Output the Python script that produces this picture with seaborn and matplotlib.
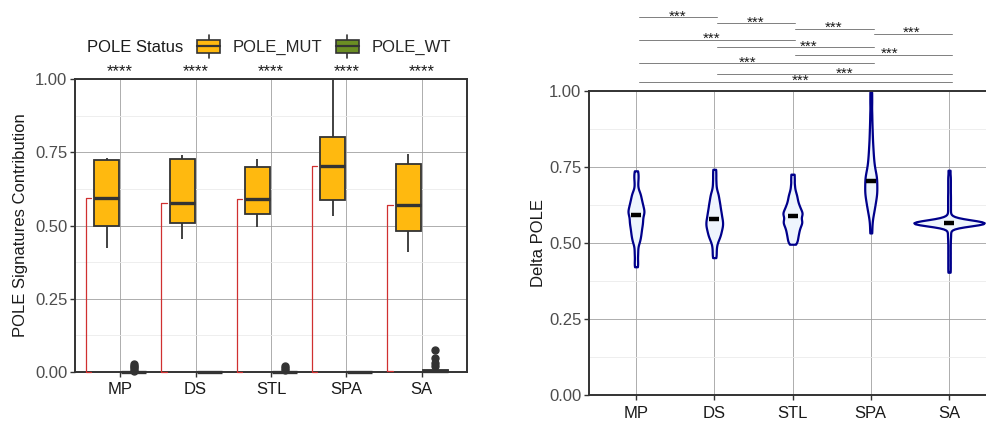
import numpy as np
import pandas as pd
import seaborn as sns
import matplotlib.pyplot as plt
from matplotlib.legend_handler import HandlerBase
from matplotlib.patches import Rectangle, Patch
from matplotlib.lines import Line2D

# ---------------- data ----------------
categories = ["MP", "DS", "STL", "SPA", "SA"]
statuses = ["POLE_MUT", "POLE_WT"]

# POLE signature contribution (left panel)
mp_mut = [0.424, 0.497, 0.593, 0.724, 0.731]
ds_mut = [0.453, 0.507, 0.578, 0.726, 0.741]
stl_mut = [0.496, 0.539, 0.590, 0.701, 0.726]
spa_mut = [0.533, 0.586, 0.704, 0.802, 1.000]
sa_mut = [0.411, 0.482, 0.570, 0.711, 0.743]

mp_wt = [0.0] * 16 + [0.005, 0.010, 0.016, 0.022, 0.028]
ds_wt = [0.0] * 8
stl_wt = [0.0] * 12 + [0.008, 0.014, 0.020]
spa_wt = [0.0] * 8
sa_wt = [0.0] * 8 + [0.002, 0.004, 0.005, 0.006, 0.007, 0.020, 0.032, 0.048, 0.075]

# Delta POLE (right panel)
mp_delta = [0.422, 0.440, 0.461, 0.479, 0.497, 0.506, 0.514, 0.521, 0.528, 0.534,
            0.540, 0.546, 0.552, 0.557, 0.562, 0.567, 0.572, 0.576, 0.581, 0.585,
            0.593, 0.596, 0.599, 0.602, 0.606, 0.610, 0.614, 0.619, 0.623, 0.628,
            0.633, 0.638, 0.644, 0.650, 0.657, 0.664, 0.671, 0.690, 0.708, 0.722,
            0.737]
ds_delta = [0.452, 0.468, 0.484, 0.498, 0.508, 0.515, 0.521, 0.526, 0.531, 0.536,
            0.540, 0.545, 0.549, 0.553, 0.557, 0.560, 0.564, 0.568, 0.572, 0.576,
            0.578, 0.584, 0.588, 0.592, 0.597, 0.601, 0.606, 0.611, 0.616, 0.622,
            0.627, 0.633, 0.639, 0.646, 0.653, 0.661, 0.669, 0.684, 0.702, 0.722,
            0.742]
stl_delta = [0.496, 0.503, 0.510, 0.516, 0.522, 0.528, 0.533, 0.538, 0.543, 0.548,
             0.552, 0.556, 0.560, 0.564, 0.567, 0.570, 0.573, 0.576, 0.580, 0.585,
             0.589, 0.592, 0.595, 0.598, 0.601, 0.604, 0.608, 0.612, 0.616, 0.620,
             0.625, 0.630, 0.636, 0.642, 0.649, 0.656, 0.664, 0.675, 0.690, 0.708,
             0.726]
spa_delta = [0.533, 0.562, 0.585, 0.598, 0.608, 0.617, 0.625, 0.632, 0.639, 0.645,
             0.651, 0.657, 0.662, 0.667, 0.672, 0.677, 0.682, 0.688, 0.693, 0.699,
             0.704, 0.709, 0.714, 0.720, 0.725, 0.731, 0.738, 0.746, 0.755, 0.765,
             0.775, 0.787, 0.800, 0.814, 0.830, 0.849, 0.870, 0.895, 0.925, 0.962,
             0.996]
sa_delta = [0.404, 0.420, 0.436, 0.452, 0.468, 0.484, 0.500, 0.515, 0.528, 0.540,
            0.556, 0.558, 0.559, 0.559, 0.560, 0.561, 0.561, 0.561, 0.562, 0.562,
            0.562, 0.563, 0.563, 0.563, 0.564, 0.564, 0.564, 0.565, 0.565, 0.565,
            0.565, 0.565, 0.565, 0.566, 0.566, 0.566, 0.567, 0.567, 0.567, 0.568,
            0.568, 0.568, 0.569, 0.569, 0.569, 0.570, 0.570, 0.571, 0.572, 0.573,
            0.574, 0.575, 0.577, 0.578, 0.580,
            0.590, 0.604, 0.618, 0.632, 0.646, 0.660, 0.675, 0.690, 0.705, 0.720, 0.739]

# significance comparisons (right panel)
sig_from = [0, 1, 2, 3, 0, 1, 2, 0, 1, 0]
sig_to = [1, 2, 3, 4, 2, 3, 4, 3, 4, 4]
sig_level = [1.241, 1.221, 1.204, 1.187, 1.168, 1.142, 1.117, 1.090, 1.054, 1.028]
sig_labels = ["***"] * 10
sig_label_dx = [0.036, 0.03, 0.03, 0.02, -0.03, 0.2, 0.24, -0.07, 0.17, 0.10]
left_sig_labels = ["****"] * 5

# ---------------- frames ----------------
mut_lists = [mp_mut, ds_mut, stl_mut, spa_mut, sa_mut]
wt_lists = [mp_wt, ds_wt, stl_wt, spa_wt, sa_wt]
delta_lists = [mp_delta, ds_delta, stl_delta, spa_delta, sa_delta]

rows = []
for cat, mv, wv in zip(categories, mut_lists, wt_lists):
    rows += [(cat, "POLE_MUT", v) for v in mv]
    rows += [(cat, "POLE_WT", v) for v in wv]
df_left = pd.DataFrame(rows, columns=["group", "status", "value"])

rows = []
for cat, dv in zip(categories, delta_lists):
    rows += [(cat, v) for v in dv]
df_right = pd.DataFrame(rows, columns=["group", "value"])

# ---------------- style ----------------
sns.set_theme(style="white")
plt.rcParams['font.family'] = ['Liberation Sans', 'DejaVu Sans']

ORANGE = "#FFB90F"
GREEN = "#6B8E23"
DARK = "#333333"
GRID = "#A0A0A0"
MINOR = "#EBEBEB"

W, H = 986, 423
fig = plt.figure(figsize=(W / 100, H / 100), dpi=100)


def style_axes(ax, right_open=False):
    ax.set_ylim(0, 1)
    ax.set_xlim(-0.6, 4.6)
    ticks = [0, 0.25, 0.5, 0.75, 1.0]
    ax.set_yticks(ticks)
    ax.set_yticklabels([f"{t:.2f}" for t in ticks])
    ax.set_yticks([0.125, 0.375, 0.625, 0.875], minor=True)
    ax.grid(which='major', color=GRID, lw=0.6)
    ax.grid(which='minor', axis='y', color=MINOR, lw=0.6)
    ax.set_axisbelow(True)
    ax.tick_params(which='minor', length=0)
    ax.tick_params(which='major', length=3.5, width=1.0, color=DARK,
                   direction='out', labelsize=12, pad=2,
                   left=True, bottom=True)
    ax.tick_params(axis='x', pad=4)
    ax.tick_params(axis='y', labelcolor="#4D4D4D")
    ax.tick_params(axis='x', labelcolor="#1A1A1A")
    for s in ax.spines.values():
        s.set_color(DARK)
        s.set_linewidth(1.4)
    if right_open:
        ax.spines['right'].set_visible(False)
    ax.set_xlabel("")


# ---------------- left panel ----------------
ax1 = fig.add_axes([75 / W, 51 / H, 392 / W, 293 / H])
sns.boxplot(data=df_left, x="group", y="value", hue="status",
            order=categories, hue_order=statuses,
            palette={"POLE_MUT": ORANGE, "POLE_WT": GREEN},
            width=0.72, gap=0.08, linecolor=DARK, linewidth=1.3,
            fliersize=5, saturation=1,
            flierprops=dict(marker='o', markerfacecolor=DARK, markeredgecolor=DARK),
            medianprops=dict(linewidth=2.4, color=DARK),
            showcaps=False, legend=False, ax=ax1)
for art in list(ax1.patches) + list(ax1.lines):
    art.set_clip_on(False)
style_axes(ax1)
ax1.set_ylabel("POLE Signatures Contribution", fontsize=12, color="#1A1A1A")
ax1.yaxis.set_label_coords(-0.12, 0.5)

# red comparison brackets (MUT median vs WT median)
for i, (mv, wv) in enumerate(zip(mut_lists, wt_lists)):
    top = np.median(mv)
    bot = np.median(wv)
    xb = i - 0.455
    ax1.plot([xb + 0.07, xb, xb, xb + 0.07], [top, top, bot, bot],
             color="#D03030", lw=0.9, zorder=3, clip_on=False)
    ax1.annotate(left_sig_labels[i], xy=(i, 1.0), xytext=(0, 2),
                 textcoords='offset points', ha='center', va='baseline',
                 fontsize=12, color="#1A1A1A", annotation_clip=False)

# ---------------- right panel ----------------
ax2 = fig.add_axes([589 / W, 27.7 / H, 407 / W, 304.6 / H])
sns.violinplot(data=df_right, x="group", y="value", order=categories,
               color="#EEF5FD", linecolor="#00008B", linewidth=1.6,
               saturation=1, inner=None, cut=0, density_norm="area",
               width=0.9, bw_adjust=0.34, ax=ax2)
sns.pointplot(data=df_right, x="group", y="value", order=categories,
              estimator="median", errorbar=None, color="black",
              marker="_", markersize=7, markeredgewidth=3.2,
              linestyle="none", ax=ax2)
style_axes(ax2, right_open=True)
ax2.set_ylabel("Delta POLE", fontsize=12, color="#1A1A1A")
ax2.yaxis.set_label_coords(-0.105, 0.5)

shift = 0.035
for a, b, yl, lab, dx in zip(sig_from, sig_to, sig_level, sig_labels, sig_label_dx):
    ax2.plot([a + shift, b + shift], [yl, yl], color="#7F7F7F", lw=0.7,
             clip_on=False)
    ax2.annotate(lab, xy=((a + b) / 2 + dx, yl), xytext=(0, -2.2),
                 textcoords='offset points', ha='center', va='baseline',
                 fontsize=11, color="#1A1A1A", annotation_clip=False)


# ---------------- legend ----------------
class BoxHandler(HandlerBase):
    def create_artists(self, legend, orig_handle, xdescent, ydescent,
                       width, height, fontsize, trans):
        x0, y0 = -xdescent, -ydescent
        fc = orig_handle.get_facecolor()
        bh = height * 0.85
        by = y0 + (height - bh) / 2
        rect = Rectangle((x0, by), width, bh, facecolor=fc, edgecolor=DARK,
                         lw=1.2, transform=trans)
        med = Line2D([x0, x0 + width], [y0 + height / 2] * 2, color=DARK,
                     lw=1.6, transform=trans)
        xm = x0 + width / 2
        wt = Line2D([xm, xm], [by + bh, by + bh + height * 0.35], color=DARK,
                    lw=1.2, transform=trans)
        wb = Line2D([xm, xm], [by, by - height * 0.35], color=DARK,
                    lw=1.2, transform=trans)
        return [wt, wb, rect, med]


fig.text(87 / W, 1 - 47 / H, "POLE Status", ha='left', va='center',
         fontsize=12, color="#1A1A1A")
handles = [Patch(facecolor=ORANGE, edgecolor=DARK), Patch(facecolor=GREEN, edgecolor=DARK)]
fig.legend(handles, statuses, handler_map={Patch: BoxHandler()},
           ncol=2, loc='center left', bbox_to_anchor=(197 / W, 1 - 47 / H),
           frameon=False, fontsize=12, handlelength=1.4, handleheight=1.0,
           handletextpad=0.75, columnspacing=0.8, borderpad=0, borderaxespad=0)

fig.savefig("out.png", dpi=100)
